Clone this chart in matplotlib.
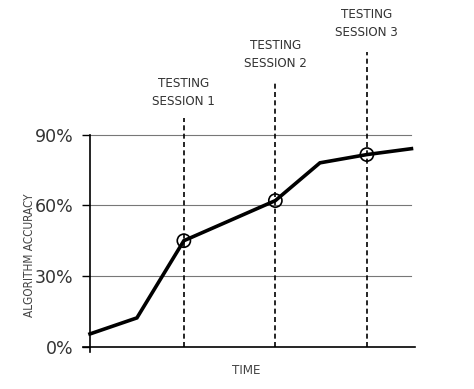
# Algorithm accuracy over time, with the three testing sessions marked

import matplotlib.pyplot as plt

# data
time = [0, 1, 2, 3.95, 4.9, 5.9, 6.85]
accuracy = [5.5, 12.3, 45, 62, 78, 81.5, 84]
session_time = [2, 3.95, 5.9]
session_acc = [45, 62, 81.5]
session_labels = ["TESTING\nSESSION 1", "TESTING\nSESSION 2", "TESTING\nSESSION 3"]
yticks = [0, 30, 60, 90]
ytick_labels = ["0%", "30%", "60%", "90%"]

font = "DejaVu Sans"

fig = plt.figure(figsize=(4.74, 3.89), dpi=100)
ax = fig.add_axes([0.175, 0.09, 0.7, 0.91])
ax.set_xlim(-0.15, 6.92)
ax.set_ylim(-3, 147)

# grid lines
for v in yticks[1:]:
    ax.plot([0, 6.85], [v, v], color="#777777", lw=0.8, zorder=1)

# dashed session lines + labels
line_tops = [97, 112, 125]
label_y = [108, 124, 137]
for t, top, ly, lab in zip(session_time, line_tops, label_y, session_labels):
    ax.plot([t, t], [0, top], color="black", lw=1.2, ls=(0, (3, 2)), zorder=2)
    ax.text(t, ly, lab, ha="center", va="center", fontsize=9.5,
            family=font, stretch="condensed", color="#333333", linespacing=1.5)

# accuracy curve
ax.plot(time, accuracy, color="black", lw=2.6, solid_joinstyle="miter", zorder=3)
ax.scatter(session_time, session_acc, s=90, facecolors="none",
           edgecolors="black", linewidths=1.2, zorder=4)

# axes
for s in ["top", "right"]:
    ax.spines[s].set_visible(False)
ax.spines["left"].set_position(("data", 0))
ax.spines["left"].set_bounds(-2, 90)
ax.spines["bottom"].set_position(("data", 0))
ax.spines["bottom"].set_bounds(-0.15, 6.92)
ax.spines["left"].set_linewidth(1.2)
ax.spines["bottom"].set_linewidth(1.2)

ax.set_xticks([])
ax.set_yticks(yticks)
ax.set_yticklabels(ytick_labels, family=font, fontsize=12.5, color="#333333")
ax.tick_params(axis="y", length=6, width=1, pad=6)

fig.text(0.063, 0.345, "ALGORITHM ACCURACY", rotation=90, ha="center", va="center",
         family=font, stretch="condensed", fontsize=8.5, color="#444444")
fig.text(0.52, 0.048, "TIME", ha="center", va="center",
         family=font, stretch="condensed", fontsize=9.5, color="#444444")

plt.savefig("out.png", dpi=100)
